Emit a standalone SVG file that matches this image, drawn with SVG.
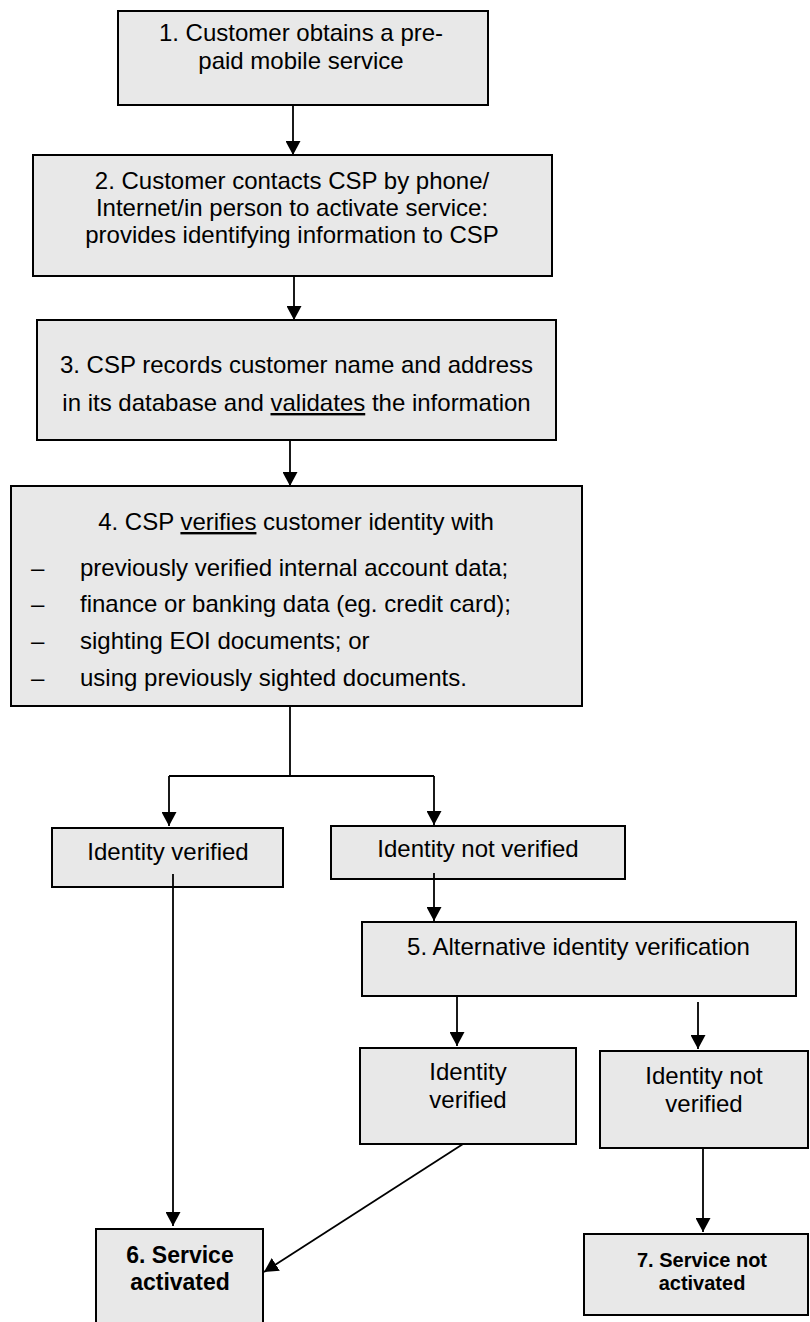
<svg xmlns="http://www.w3.org/2000/svg" width="810" height="1322" viewBox="0 0 810 1322">
<style>
  .box { fill: #e8e8e8; stroke: #000; stroke-width: 2; }
  .t { font-family: "Liberation Sans", Arial, sans-serif; font-size: 24px; fill: #000; }
  .c { text-anchor: middle; }
  .b { font-weight: bold; font-size: 23px; }
  .b7 { font-weight: bold; font-size: 20px; }
  .u { text-decoration: underline; }
  .conn { fill: none; stroke: #000; stroke-width: 1.8; }
</style>
<defs>
  <marker id="ah" markerUnits="userSpaceOnUse" markerWidth="14" markerHeight="15" refX="14" refY="7.5" orient="auto" viewBox="0 0 14 15">
    <path d="M0,0 L14,7.5 L0,15 z" fill="#000"/>
  </marker>
</defs>
<rect width="810" height="1322" fill="#fff"/>

<g id="n1">
  <rect class="box" x="118" y="11" width="370" height="94"/>
  <text class="t c" x="301" y="41">1. Customer obtains a pre-</text>
  <text class="t c" x="301" y="69">paid mobile service</text>
</g>

<g id="n2">
  <rect class="box" x="33" y="155" width="519" height="121"/>
  <text class="t c" x="292" y="189">2. Customer contacts CSP by phone/</text>
  <text class="t c" x="292" y="216">Internet/in person to activate service:</text>
  <text class="t c" x="292" y="243">provides identifying information to CSP</text>
</g>

<g id="n3">
  <rect class="box" x="37" y="320" width="519" height="120"/>
  <text class="t c" x="296.5" y="373">3. CSP records customer name and address</text>
  <text class="t c" x="296.5" y="411">in its database and <tspan class="u">validates</tspan> the information</text>
</g>

<g id="n4">
  <rect class="box" x="11" y="486" width="571" height="220"/>
  <text class="t c" x="296" y="530">4. CSP <tspan class="u">verifies</tspan> customer identity with</text>
  <text class="t" x="31" y="576">–</text>
  <text class="t" x="80" y="576">previously verified internal account data;</text>
  <text class="t" x="31" y="612">–</text>
  <text class="t" x="80" y="612">finance or banking data (eg. credit card);</text>
  <text class="t" x="31" y="649">–</text>
  <text class="t" x="80" y="649">sighting EOI documents; or</text>
  <text class="t" x="31" y="686">–</text>
  <text class="t" x="80" y="686">using previously sighted documents.</text>
</g>

<g id="n_iv1">
  <rect class="box" x="52" y="828" width="231" height="59"/>
  <text class="t c" x="168" y="860">Identity verified</text>
</g>

<g id="n_inv1">
  <rect class="box" x="331" y="826" width="294" height="53"/>
  <text class="t c" x="478" y="857">Identity not verified</text>
</g>

<g id="n5">
  <rect class="box" x="362" y="922" width="434" height="74"/>
  <text class="t c" x="578.5" y="955">5. Alternative identity verification</text>
</g>

<g id="n_iv2">
  <rect class="box" x="360" y="1048" width="216" height="96"/>
  <text class="t c" x="468" y="1080">Identity</text>
  <text class="t c" x="468" y="1108">verified</text>
</g>

<g id="n_inv2">
  <rect class="box" x="600" y="1051" width="208" height="97"/>
  <text class="t c" x="704" y="1084">Identity not</text>
  <text class="t c" x="704" y="1112">verified</text>
</g>

<g id="n6">
  <rect class="box" x="96" y="1229" width="167" height="110"/>
  <text class="t c b" x="180" y="1263">6. Service</text>
  <text class="t c b" x="180" y="1290">activated</text>
</g>

<g id="n7">
  <rect class="box" x="584" y="1234" width="224" height="81"/>
  <text class="t c b7" x="702" y="1267">7. Service not</text>
  <text class="t c b7" x="702" y="1290">activated</text>
</g>

<g id="connectors">
  <path class="conn" d="M293,105 L293,155" marker-end="url(#ah)"/>
  <path class="conn" d="M294,276 L294,320" marker-end="url(#ah)"/>
  <path class="conn" d="M290,440 L290,486" marker-end="url(#ah)"/>
  <path class="conn" d="M290,706 L290,776"/>
  <path class="conn" d="M169,776 L434,776"/>
  <path class="conn" d="M169,776 L169,826" marker-end="url(#ah)"/>
  <path class="conn" d="M434,776 L434,825" marker-end="url(#ah)"/>
  <path class="conn" d="M173,874 L173,1226" marker-end="url(#ah)"/>
  <path class="conn" d="M434,873 L434,921" marker-end="url(#ah)"/>
  <path class="conn" d="M457,996 L457,1046" marker-end="url(#ah)"/>
  <path class="conn" d="M698,1002 L698,1049" marker-end="url(#ah)"/>
  <path class="conn" d="M703,1148 L703,1232" marker-end="url(#ah)"/>
  <path class="conn" d="M463,1144 L264,1272" marker-end="url(#ah)"/>
</g>
</svg>
